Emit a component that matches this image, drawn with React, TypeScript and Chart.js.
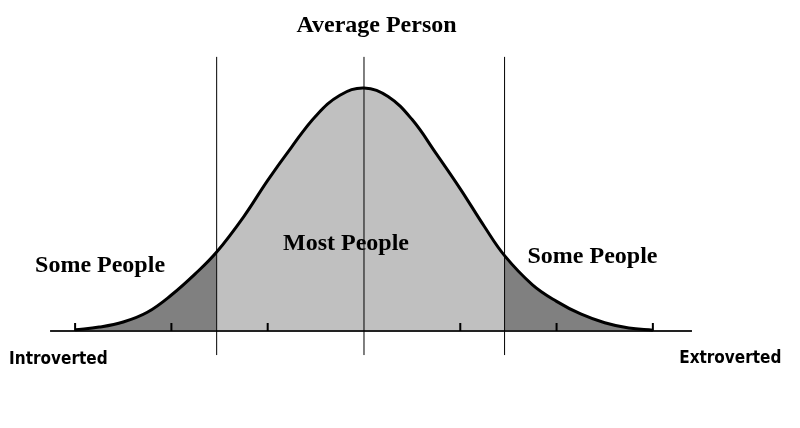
import React, { useEffect, useRef } from "react";
import { Chart, registerables } from "chart.js";

Chart.register(...registerables);

// Personality trait position (in standard deviations from the average)
const curveX = [-3.0, -2.75, -2.5, -2.25, -2.0, -1.75, -1.53, -1.25, -1.0, -0.75, -0.5, -0.25, 0, 0.25, 0.5, 0.75, 1.0, 1.25, 1.46, 1.75, 2.0, 2.25, 2.5, 2.75, 3.0];
// Relative share of people (peak = 1)
const curveY = [0.005, 0.016, 0.037, 0.077, 0.148, 0.236, 0.325, 0.47, 0.62, 0.758, 0.885, 0.97, 1.0, 0.965, 0.87, 0.73, 0.585, 0.43, 0.31, 0.19, 0.122, 0.07, 0.034, 0.012, 0.003];

const leftCut = -1.53;
const rightCut = 1.46;
const dividerX = [leftCut, 0, rightCut];
const dividerTop = 1.128;
const dividerBottom = -0.099;
const tickX = [-3, -2, -1, 1, 2, 3];
const tickHeight = 0.033;
const axisRange = [-3.26, 3.406];

const labelTexts = ["Average Person", "Most People", "Some People", "Some People", "Introverted", "Extroverted"];
const labelX = [0.13, -0.187, -2.741, 2.373, -3.174, 3.804];
const labelY = [1.232, 0.333, 0.244, 0.279, -0.137, -0.133];

const serifBold = "bold 24px 'Liberation Serif', 'Times New Roman', serif";
const sansBold = "bold 17px 'DejaVu Sans Condensed', 'DejaVu Sans', sans-serif";
const labelFonts = [serifBold, serifBold, serifBold, serifBold, sansBold, sansBold];

const pts = (from: number, to: number) =>
  curveX.map((x, i) => ({ x, y: curveY[i] })).filter((p) => p.x >= from - 1e-9 && p.x <= to + 1e-9);

const labelPlugin = {
  id: "labels",
  afterDatasetsDraw(chart: any) {
    const { ctx, scales } = chart;
    ctx.save();
    ctx.fillStyle = "#000";
    ctx.textAlign = "center";
    ctx.textBaseline = "alphabetic";
    labelTexts.forEach((t, i) => {
      ctx.font = labelFonts[i];
      ctx.fillText(t, scales.x.getPixelForValue(labelX[i]), scales.y.getPixelForValue(labelY[i]));
    });
    ctx.restore();
  },
};

export default function App() {
  const ref = useRef<HTMLCanvasElement>(null);
  useEffect(() => {
    if (!ref.current) return;
    const tickData: any[] = [];
    tickX.forEach((x) => {
      tickData.push({ x, y: 0 }, { x, y: tickHeight }, { x, y: null });
    });
    const divData: any[] = [];
    dividerX.forEach((x) => {
      divData.push({ x, y: dividerBottom }, { x, y: dividerTop }, { x, y: null });
    });
    const fillBase = {
      borderWidth: 0,
      pointRadius: 0,
      tension: 0.4,
      fill: "origin",
    };
    const chart = new Chart(ref.current, {
      type: "line",
      data: {
        datasets: [
          { ...fillBase, data: pts(-10, leftCut), backgroundColor: "#808080", order: 6 },
          { ...fillBase, data: pts(leftCut, rightCut), backgroundColor: "#c0c0c0", order: 6 },
          { ...fillBase, data: pts(rightCut, 10), backgroundColor: "#808080", order: 6 },
          {
            data: [{ x: axisRange[0], y: 0 }, { x: axisRange[1], y: 0 }],
            borderColor: "#222",
            borderWidth: 2,
            pointRadius: 0,
            fill: false,
            order: 4,
          },
          { data: tickData, borderColor: "#000", borderWidth: 2, pointRadius: 0, fill: false, spanGaps: false, order: 3 },
          { data: divData, borderColor: "#000", borderWidth: 1, pointRadius: 0, fill: false, spanGaps: false, order: 2 },
          {
            data: pts(-10, 10),
            borderColor: "#000",
            borderWidth: 3,
            pointRadius: 0,
            fill: false,
            tension: 0.4,
            order: 1,
          },
        ] as any,
      },
      options: {
        animation: false,
        responsive: false,
        layout: { padding: 0, autoPadding: false },
        plugins: { legend: { display: false }, tooltip: { enabled: false }, title: { display: false } },
        scales: {
          x: { type: "linear", display: false, min: -3.78, max: 4.528 },
          y: { type: "linear", display: false, min: -0.3992, max: 1.3621 },
        },
      },
      plugins: [labelPlugin],
    });
    return () => chart.destroy();
  }, []);
  return (
    <div style={{ position: "fixed", left: 0, top: 0, width: 800, height: 428, background: "#fff" }}>
      <canvas ref={ref} width={800} height={428} style={{ display: "block" }} />
    </div>
  );
}
